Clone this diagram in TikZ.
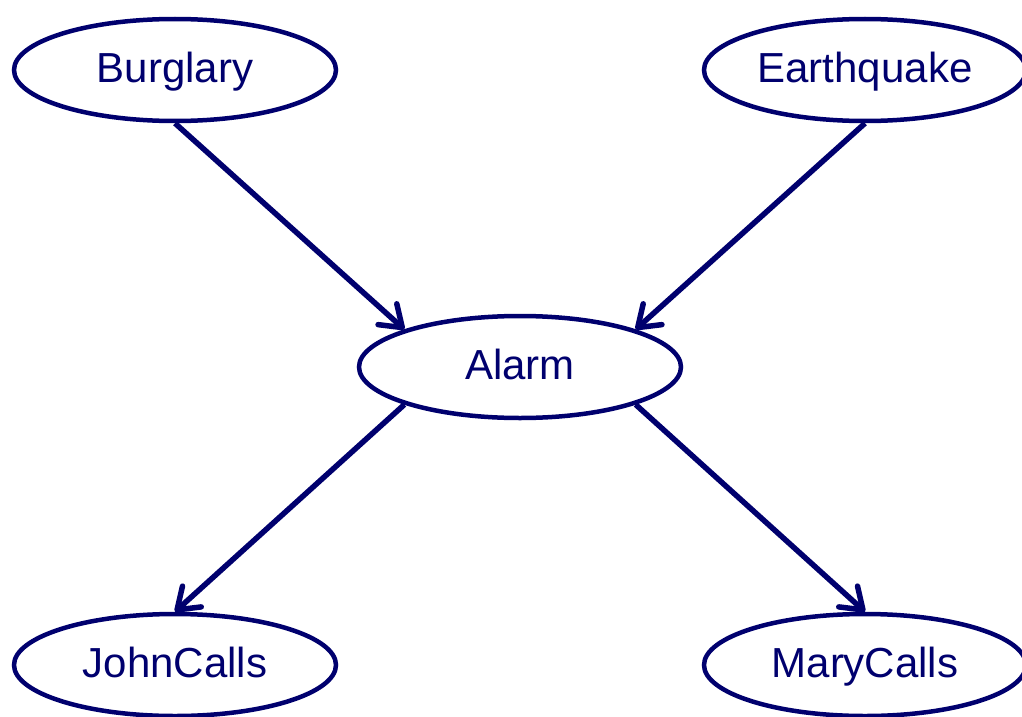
\documentclass[tikz,border=0pt]{standalone}
\usepackage{fontspec}
\setmainfont{Liberation Sans}
\usepackage{tikz}
\usetikzlibrary{arrows.meta,shapes.geometric}
\definecolor{netblue}{RGB}{0,0,110}
\tikzset{
  varnode/.style = {ellipse, draw=netblue, line width=4.5pt, text=netblue,
                    minimum width=322pt, minimum height=102pt, inner sep=0pt,
                    text height=32pt, text depth=8pt,
                    font=\fontsize{42}{50}\selectfont},
  link/.style    = {draw=netblue, line width=5.5pt,
                    -{Straight Barb[length=20pt,width=28pt,round]}},
}
\begin{document}
\begin{tikzpicture}[x=1pt, y=-1pt]
  \useasboundingbox (0,0) rectangle (1022,717);
  % nodes of the network
  \node[varnode] (burglary) at (175,70)  {Burglary};
  \node[varnode] (quake)    at (865,70)  {Earthquake};
  \node[varnode] (alarm)    at (520,367) {Alarm};
  \node[varnode] (john)     at (175,665) {JohnCalls};
  \node[varnode] (mary)     at (865,665) {MaryCalls};
  % causal links
  \draw[link] (burglary.south) -- (alarm.162);
  \draw[link] (quake.south) -- (alarm.18);
  \draw[link] (alarm.198) -- (john.north);
  \draw[link] (alarm.-18) -- (mary.north);
\end{tikzpicture}
\end{document}
